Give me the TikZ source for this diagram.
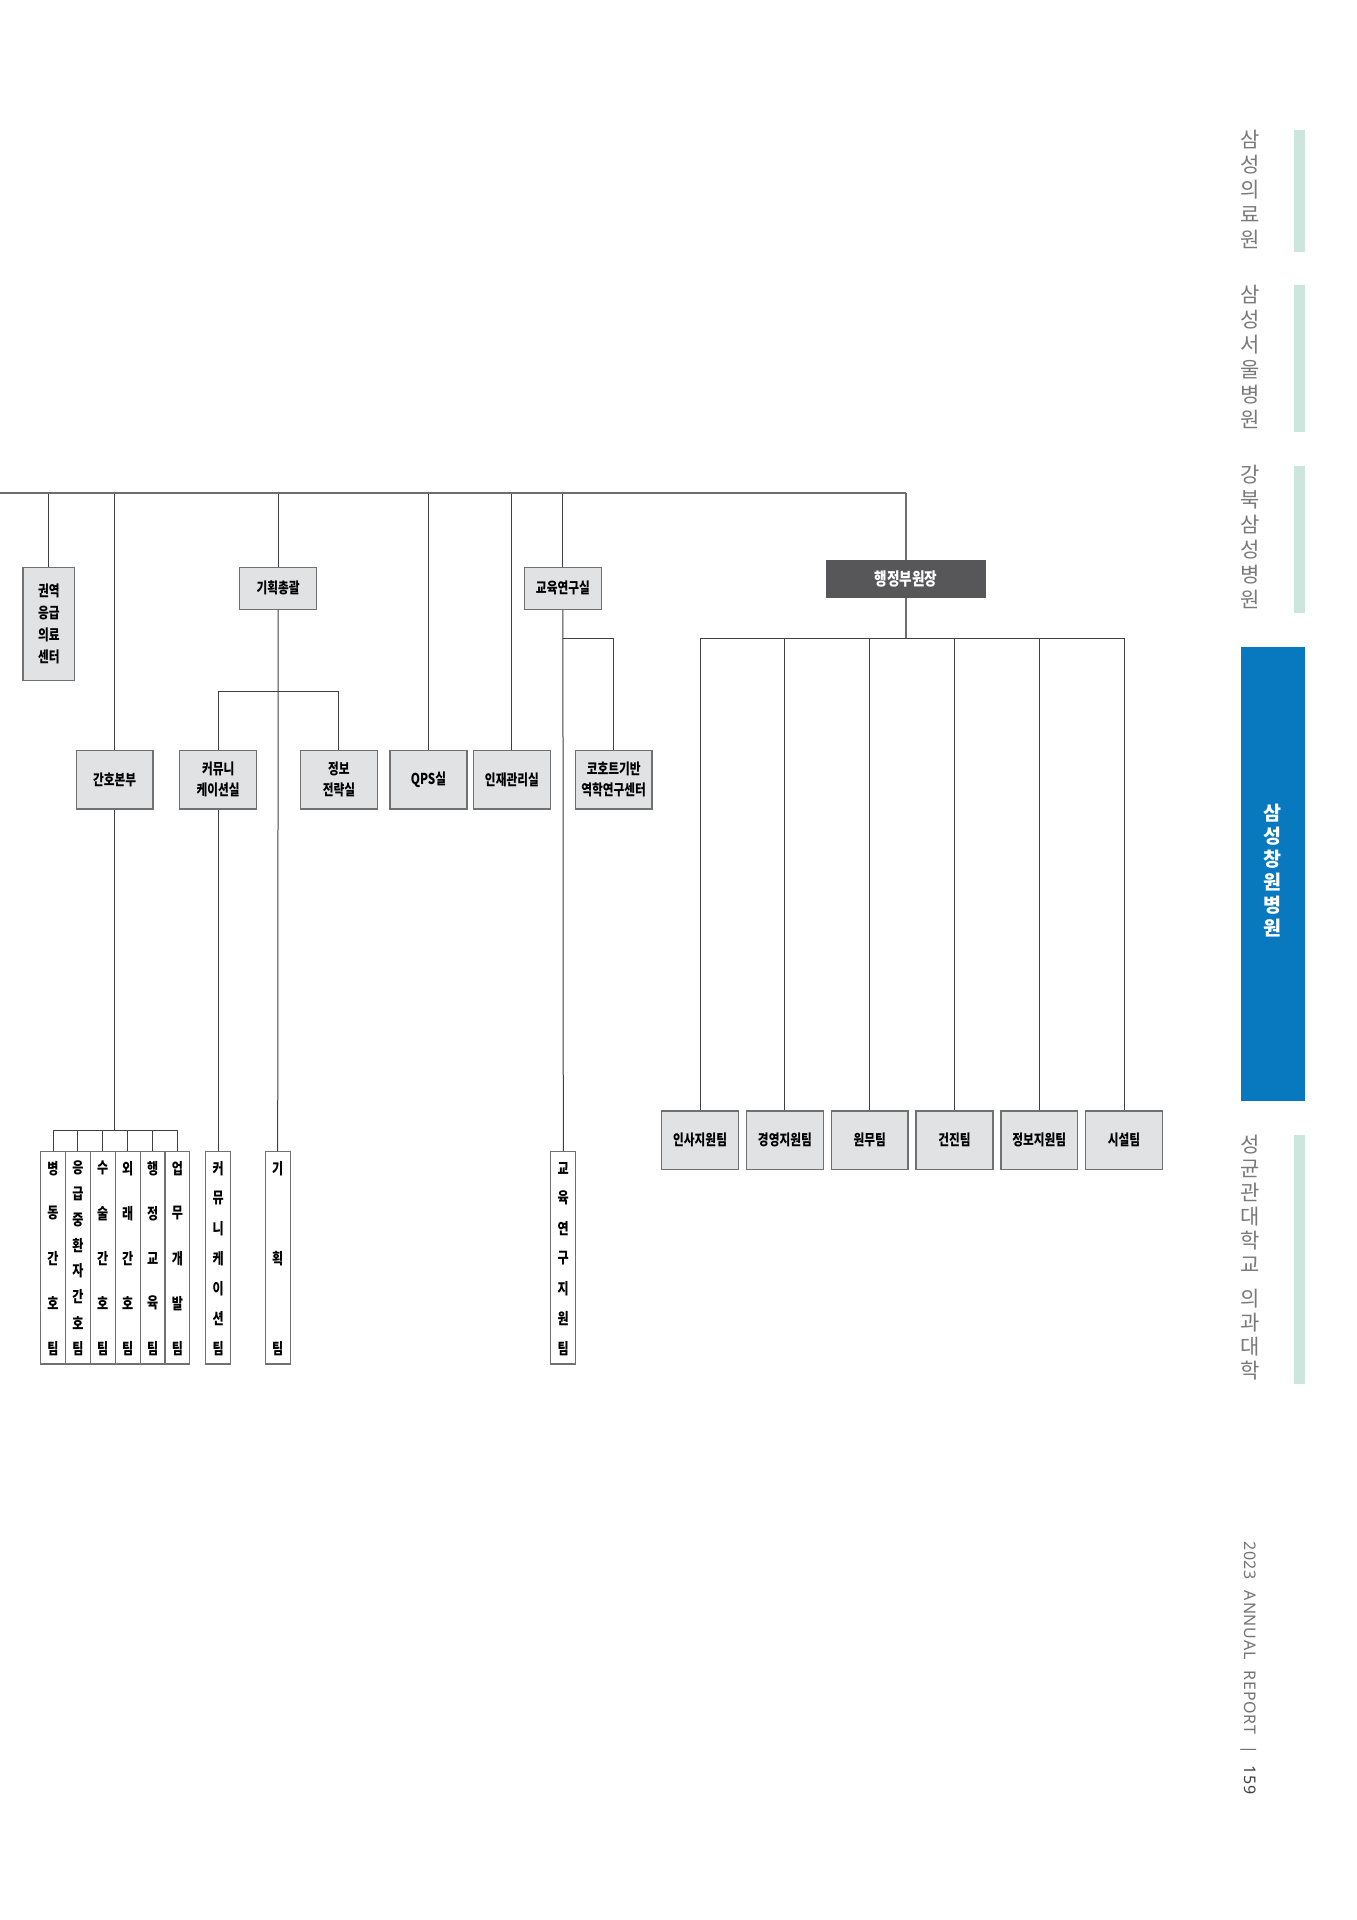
\documentclass[tikz,border=0pt]{standalone}
\usepackage{fontspec}
\usepackage{tikz}
\usetikzlibrary{positioning}
\newfontfamily\kr[FakeStretch=0.78]{Noto Sans CJK KR}
\newfontfamily\krside{Noto Sans CJK KR}
\newfontfamily\reportfont[LetterSpace=5,WordSpace=2.2]{Noto Sans}
\definecolor{boxgray}{RGB}{225,226,228}
\definecolor{framegray}{RGB}{112,113,115}
\definecolor{linegray}{RGB}{64,64,66}
\definecolor{trunkgray}{RGB}{110,110,112}
\definecolor{darkbox}{RGB}{87,87,89}
\definecolor{tabgreen}{RGB}{204,230,222}
\definecolor{tabblue}{RGB}{8,120,191}
\definecolor{sidegray}{RGB}{122,122,124}

% vertical team column: name, x, number of letters, letters
\newcommand{\teamcol}[4]{%
  \node[colbox] (#1) at (#2,1257.8) {};
  \foreach \ch [count=\k] in {#4}
    \node[colchar] at (#2,{1168.3+(\k-1)*180/(#3-1)}) {\ch};
}

\begin{document}
\begin{tikzpicture}[x=1pt, y=-1pt,
  unit/.style={draw=framegray, line width=1.3pt, fill=boxgray, inner sep=0pt, minimum width=76.8pt, align=center, font=\kr\bfseries\fontsize{15}{21}\selectfont},
  colbox/.style={draw=framegray, line width=1.1pt, fill=white, inner sep=0pt, minimum width=24.9pt, minimum height=212.3pt},
  colchar/.style={inner sep=0pt, font=\kr\bfseries\fontsize{15.5}{15}\selectfont},
  conn/.style={draw=linegray, line width=1pt},
  trunk/.style={draw=trunkgray, line width=2.2pt},
  sidelabel/.style={inner sep=0pt, align=center, text=sidegray, anchor=north, font=\krside\fontsize{21}{25}\selectfont}]
  \fill[white] (0,0) rectangle (1357,1920);
  \useasboundingbox (0,0) rectangle (1357,1920);

  % First level
  \node[unit, minimum width=51.6pt, minimum height=113.4pt, font=\kr\bfseries\fontsize{15}{22}\selectfont] (region) at (48.8,624) {권역\\응급\\의료\\센터};
  \node[unit, minimum height=42pt] (plan) at (278.2,588.3) {기획총괄};
  \node[unit, minimum height=42pt] (edu) at (562.9,588.3) {교육연구실};
  \node[unit, fill=darkbox, draw=darkbox, text=white, minimum width=158.8pt, minimum height=36.7pt, font=\kr\bfseries\fontsize{17.5}{18}\selectfont] (admin) at (905.9,578.6) {행정부원장};

  % Second level
  \node[unit, minimum height=58.3pt] (nursing) at (114.7,779.8) {간호본부};
  \node[unit, minimum height=58.3pt] (comm) at (218.2,779.8) {커뮤니\\케이션실};
  \node[unit, minimum height=58.3pt] (info) at (338.9,779.8) {정보\\전략실};
  \node[unit, minimum height=58.3pt] (qps) at (428.5,779.8) {QPS실};
  \node[unit, minimum height=58.3pt] (hr) at (511.9,779.8) {인재관리실};
  \node[unit, minimum height=58.3pt] (cohort) at (613.7,779.8) {코호트기반\\역학연구센터};

  % Admin teams
  \foreach \t [count=\i] in {인사지원팀,경영지원팀,원무팀,건진팀,정보지원팀,시설팀}
    \node[unit, minimum height=58.3pt] (adm\i) at ({700.1+(\i-1)*84.8},1140.2) {\t};

  % Team columns
  \teamcol{ward}{53}{5}{병,동,간,호,팀}
  \teamcol{icu}{77.9}{8}{응,급,중,환,자,간,호,팀}
  \teamcol{surg}{102.8}{5}{수,술,간,호,팀}
  \teamcol{outp}{127.7}{5}{외,래,간,호,팀}
  \teamcol{admedu}{152.6}{5}{행,정,교,육,팀}
  \teamcol{workdev}{177.4}{5}{업,무,개,발,팀}
  \teamcol{commteam}{218.2}{7}{커,뮤,니,케,이,션,팀}
  \teamcol{planteam}{277.7}{3}{기,획,팀}
  \teamcol{eduteam}{563.3}{7}{교,육,연,구,지,원,팀}

  % Top line
  \coordinate (top) at (0,492.7);
  \foreach \n in {region,nursing,plan,qps,hr,edu}
    \draw[conn] (\n.north) -- (\n.north |- top);
  \draw[trunk, line width=1.5pt] (admin.north) -- (admin.north |- top);
  \draw[trunk] (top) -- (admin.north |- top);

  % Planning
  \coordinate (pbus) at (278.2,691.7);
  \draw[conn] (plan.south) -- (planteam.north);
  \draw[conn] (comm.north) -- (comm.north |- pbus) -- (info.north |- pbus) -- (info.north);
  \draw[conn] (comm.south) -- (commteam.north);

  % Education
  \coordinate (ebus) at (562.9,638.3);
  \draw[conn] (edu.south) -- (eduteam.north);
  \draw[conn] (edu.south |- ebus) -- (cohort.north |- ebus) -- (cohort.north);

  % Nursing
  \coordinate (nbus) at (114.7,1130);
  \draw[conn] (nursing.south) -- (nbus);
  \draw[conn] (ward.north |- nbus) -- (workdev.north |- nbus);
  \foreach \n in {ward,icu,surg,outp,admedu,workdev}
    \draw[conn] (\n.north) -- (\n.north |- nbus);

  % Administration
  \coordinate (abus) at (905.9,638.3);
  \draw[trunk, line width=1.5pt] (admin.south) -- (abus);
  \draw[conn, line width=1.3pt] (adm1.north |- abus) -- (adm6.north |- abus);
  \foreach \i in {1,...,6}
    \draw[conn] (adm\i.north) -- (adm\i.north |- abus);

  % Side tabs
  \fill[tabgreen] (1294.4,129.8) rectangle (1305.3,251.5);
  \fill[tabgreen] (1294.4,285) rectangle (1305.3,432);
  \fill[tabgreen] (1294.4,465.5) rectangle (1305.3,613.3);
  \fill[tabblue] (1240.7,646.7) rectangle (1305.3,1101);
  \fill[tabgreen] (1294.4,1135) rectangle (1305.3,1384);
  \node[sidelabel] (tab1) at (1250,129.8) {삼\\성\\의\\료\\원};
  \node[sidelabel] (tab2) at (1250,285.4) {삼\\성\\서\\울\\병\\원};
  \node[sidelabel] (tab3) at (1250,465.4) {강\\북\\삼\\성\\병\\원};
  \node[inner sep=0pt, align=center, text=white, font=\krside\bfseries\fontsize{19.5}{23.1}\selectfont] (tab4) at (1272.2,870.5) {삼\\성\\창\\원\\병\\원};
  \node[sidelabel, font=\krside\fontsize{21}{24}\selectfont] (tab5) at (1250,1135) {성\\균\\관\\대\\학\\교\\[10pt]의\\과\\대\\학};
  \node[rotate=-90, inner sep=0pt, text=black!55, font=\reportfont\fontsize{16}{17}\selectfont] (report) at (1249,1668) {2023 ANNUAL REPORT | \textbf{\color{black!75}159}};
\end{tikzpicture}
\end{document}
